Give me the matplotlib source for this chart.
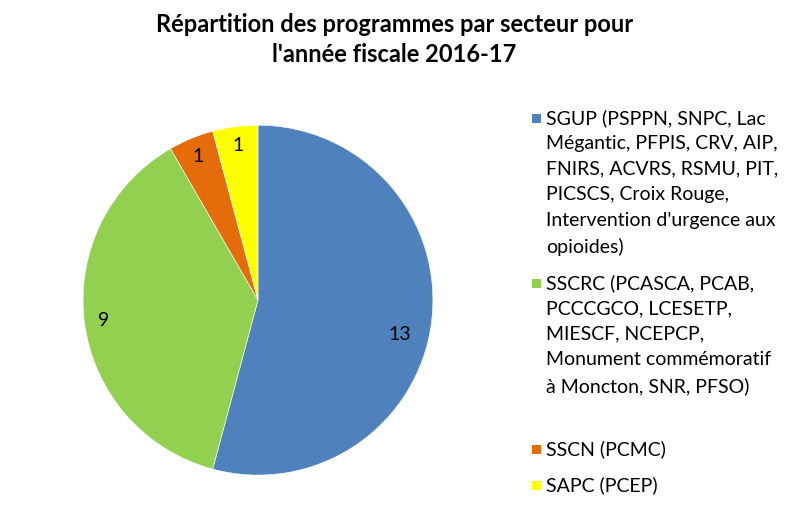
import matplotlib
matplotlib.use("Agg")
import matplotlib.pyplot as plt
from matplotlib.patches import Rectangle

plt.rcParams['font.family'] = ['Lato', 'DejaVu Sans']

# data
sectors = [
    "SGUP (PSPPN, SNPC, Lac\nMégantic, PFPIS, CRV, AIP,\nFNIRS, ACVRS, RSMU, PIT,\nPICSCS, Croix Rouge,\nIntervention d'urgence aux\nopioides)",
    "SSCRC (PCASCA, PCAB,\nPCCCGCO, LCESETP,\nMIESCF, NCEPCP,\nMonument commémoratif\nà Moncton, SNR, PFSO)",
    "SSCN (PCMC)",
    "SAPC (PCEP)",
]
counts = [13, 9, 1, 1]
colors = ["#4F81BD", "#92D050", "#E46C0A", "#FFFF00"]

fig = plt.figure(figsize=(7.94, 5.07), dpi=100)
fig.text(0.497, 0.975, "Répartition des programmes par secteur pour\nl'année fiscale 2016-17",
         ha='center', va='top', fontsize=17, fontweight='bold', linespacing=1.38)

ax = fig.add_axes([0.1045, 0.063, 0.4408, 0.690])
wedges, texts = ax.pie(counts, colors=colors, startangle=90, counterclock=False,
                       labels=[str(c) for c in counts], labeldistance=0.89,
                       wedgeprops=dict(linewidth=0.4, edgecolor='white'),
                       textprops=dict(fontsize=14, color='black'))
for t in texts:
    t.set_ha('center')
    t.set_va('center')
# Excel nudged the big slice label a bit lower/inward
x0, y0 = texts[0].get_position()
texts[0].set_position((x0 - 0.07, y0 - 0.08))
ax.set_xlim(-1, 1)
ax.set_ylim(-1, 1)
ax.set_aspect('equal')
ax.axis('off')

# legend drawn by hand so the marker sits on the first line of each entry
W, H = 794, 507
y_first = [118, 283, 449, 485]
for lab, col, yy in zip(sectors, colors, y_first):
    fig.patches.append(Rectangle((532 / W, 1 - (yy + 4.5) / H), 9 / W, 9 / H,
                                 transform=fig.transFigure, facecolor=col, edgecolor='none'))
    fig.text(546 / W, 1 - (yy - 9) / H, lab, ha='left', va='top', fontsize=14,
             linespacing=1.6, color='black')

fig.savefig("out.png", dpi=100)
